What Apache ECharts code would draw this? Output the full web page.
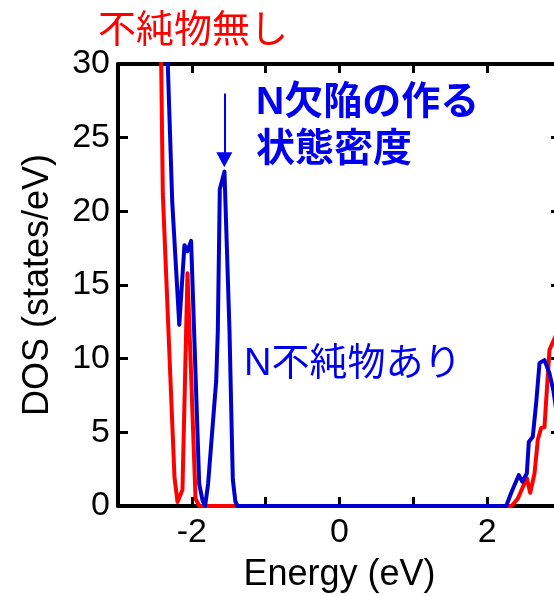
<!DOCTYPE html>
<html>
<head>
<meta charset="utf-8">
<script src="https://cdn.jsdelivr.net/npm/echarts@6/dist/echarts.min.js"></script>
<style>
html,body{margin:0;padding:0;background:#fff;}
#c{width:554px;height:596px;}
</style>
</head>
<body>
<div id="c"></div>
<script>
// ---- data ----
const xTickLabels = [-2, 0, 2];
const xTicks = [-2, -1, 0, 1, 2];
const yTicks = [0, 5, 10, 15, 20, 25, 30];

// pure (不純物無し) DOS
const energyRed = [-2.45, -2.393, -2.235, -2.194, -2.127, -2.059, -1.95, -1.90, 2.33, 2.415, 2.537, 2.583, 2.641, 2.686, 2.732, 2.776, 2.808, 2.844, 2.95];
const dosRed    = [44,    21.2,   1.95,   0.27,   1.1,    15.8,   0.5,   0,     0,    0.5,   1.9,   0.9,   2.2,   4.5,   5.3,   5.35,  7.85,  10.6,  11.8];

// N-doped (N不純物あり) DOS
const energyBlue = [-2.36, -2.266, -2.17, -2.10, -2.06, -2.01, -1.90, -1.856, -1.82, -1.78, -1.67, -1.648, -1.621, -1.558, -1.49, -1.445, -1.41, -1.38, 2.258, 2.326, 2.429, 2.475, 2.537, 2.564, 2.618, 2.664, 2.709, 2.776, 2.844, 2.898, 2.95];
const dosBlue    = [35.3,  20.7,   12.3,  17.7,  17.3,  18.0,  1.5,   0.4,    0,     1.5,   8.5,   11.9,   21.5,   22.7,   11.9,  1.8,    0.3,   0,     0,     0.9,   2.1,   1.65,  2.2,   4.35,  4.7,   7.0,   9.7,   9.9,   9.0,   7.8,   6.0];

// annotation arrow (data coordinates)
const arrowFrom = [-1.56, 28.0];
const arrowTo   = [-1.56, 23.5];

const labelPure = '不純物無し';
const labelDefect = 'N欠陥の作る\n状態密度';
const labelDoped = 'N不純物あり';

const RED = '#ff0000';
const BLUE_LINE = '#0000cd';
const BLUE_TEXT = '#0000f0';
const FONT = '"Liberation Sans", Arial, "Noto Sans CJK JP", sans-serif';

const chart = echarts.init(document.getElementById('c'), null, {renderer: 'canvas'});
const axisLine = {show: true, onZero: false, lineStyle: {color: '#000', width: 4}};
const option = {
  animation: false,
  backgroundColor: '#fff',
  grid: {left: 118, top: 64, width: 443, height: 442, containLabel: false, outerBoundsMode: 'none'},
  xAxis: [{
    type: 'value', position: 'bottom', min: -3, max: 3,
    axisLine: axisLine,
    axisTick: {show: true, inside: true, length: 9, lineStyle: {color: '#000', width: 3}, customValues: xTicks},
    axisLabel: {show: true, customValues: xTickLabels, fontSize: 34, color: '#000', fontFamily: FONT, margin: 10},
    splitLine: {show: false},
    name: 'Energy (eV)', nameLocation: 'middle', nameGap: 51,
    nameTextStyle: {fontSize: 36, color: '#000', fontFamily: FONT}
  }, {
    type: 'value', position: 'top', min: -3, max: 3,
    axisLine: axisLine,
    axisTick: {show: true, inside: true, length: 9, lineStyle: {color: '#000', width: 3}, customValues: xTicks},
    axisLabel: {show: false},
    splitLine: {show: false}
  }],
  yAxis: [{
    type: 'value', position: 'left', min: 0, max: 30, interval: 5,
    axisLine: axisLine,
    axisTick: {show: true, inside: true, length: 10, lineStyle: {color: '#000', width: 3}},
    axisLabel: {show: true, fontSize: 34, color: '#000', fontFamily: FONT, margin: 8},
    splitLine: {show: false},
    name: 'DOS (states/eV)', nameLocation: 'middle', nameGap: 62,
    nameTextStyle: {fontSize: 36, color: '#000', fontFamily: FONT}
  }, {
    type: 'value', position: 'right', min: 0, max: 30, interval: 5,
    axisLine: axisLine,
    axisTick: {show: true, inside: true, length: 10, lineStyle: {color: '#000', width: 3}},
    axisLabel: {show: false},
    splitLine: {show: false}
  }],
  series: [{
    name: labelPure, type: 'line', xAxisIndex: 0, yAxisIndex: 0,
    data: energyRed.map((e, i) => [e, dosRed[i]]),
    showSymbol: false, symbol: 'none', clip: true,
    lineStyle: {color: RED, width: 4, join: 'round'},
    z: 3
  }, {
    name: labelDoped, type: 'line', xAxisIndex: 0, yAxisIndex: 0,
    data: energyBlue.map((e, i) => [e, dosBlue[i]]),
    showSymbol: false, symbol: 'none', clip: true,
    lineStyle: {color: BLUE_LINE, width: 4, join: 'round'},
    z: 4,
    markLine: {
      silent: true, animation: false,
      symbol: ['none', 'triangle'], symbolSize: [16, 15],
      lineStyle: {color: BLUE_TEXT, width: 2, type: 'solid'},
      label: {show: false},
      data: [[{coord: arrowFrom}, {coord: arrowTo}]]
    }
  }],
  graphic: [
    {type: 'text', left: 98, top: 9, style: {text: labelPure, fill: RED, font: '38px "Noto Sans CJK JP", sans-serif'}},
    {type: 'text', left: 256, top: 80, style: {text: labelDefect, fill: BLUE_TEXT, font: 'bold 39px "Liberation Sans", "Noto Sans CJK JP", sans-serif', lineHeight: 47}},
    {type: 'text', left: 244, top: 346, style: {text: labelDoped, fill: BLUE_TEXT, font: '38px "Liberation Sans", "Noto Sans CJK JP", sans-serif'}}
  ]
};
chart.setOption(option);
</script>
</body>
</html>
